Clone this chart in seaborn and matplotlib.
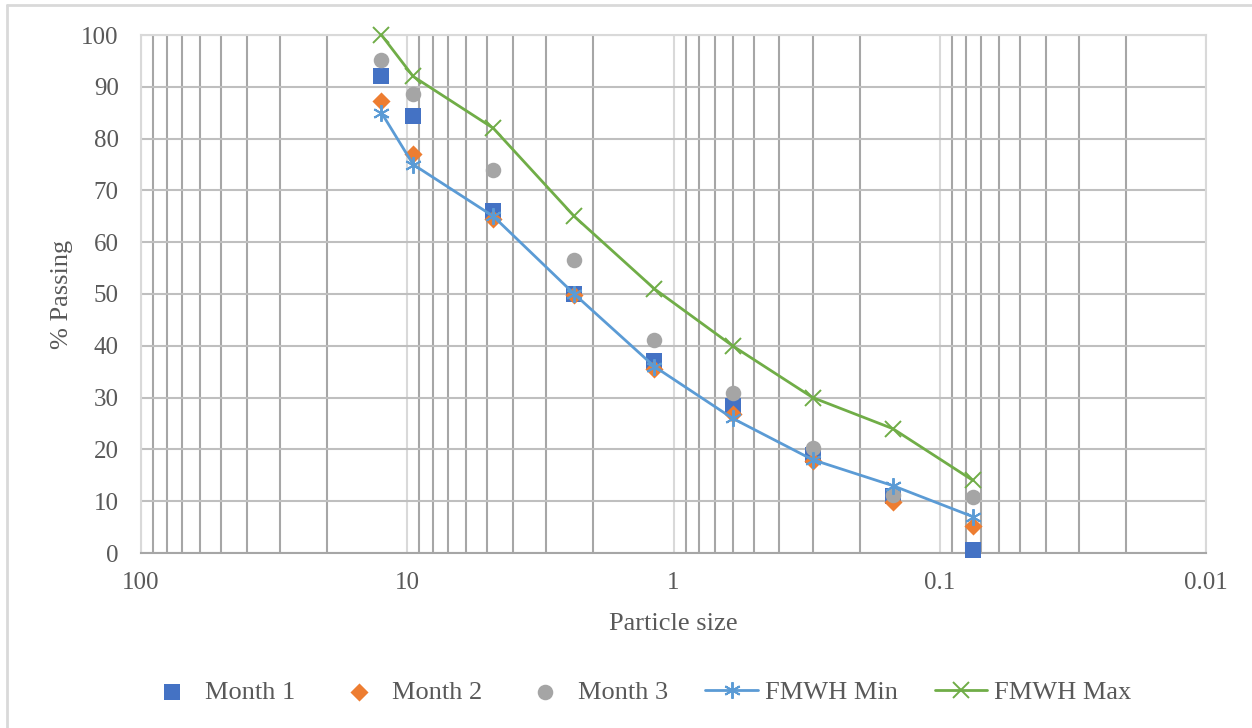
import numpy as np
import pandas as pd
import matplotlib
matplotlib.use('Agg')
import matplotlib.pyplot as plt
import seaborn as sns
from matplotlib.ticker import LogLocator, FuncFormatter, NullFormatter
from matplotlib.lines import Line2D

sizes = [12.5, 9.5, 4.75, 2.36, 1.18, 0.6, 0.3, 0.15, 0.075]
month1 = [92.0, 84.3, 66.0, 50.0, 37.0, 28.3, 19.0, 11.0, 0.5]
month2 = [87.3, 77.0, 64.5, 49.8, 35.5, 26.8, 17.8, 9.8, 5.2]
month3 = [95.2, 88.7, 74.0, 56.5, 41.2, 30.8, 20.3, 11.2, 10.8]
fmwh_min = [85, 75, 65, 50, 36, 26, 18, 13, 7]
fmwh_max = [100, 92, 82, 65, 51, 40, 30, 24, 14]

sns.set_style('white')
plt.rcParams['font.family'] = ['Liberation Serif', 'DejaVu Serif']
txt = '#595959'

fig = plt.figure(figsize=(12.52, 7.28), dpi=100)
ax = fig.add_axes([141 / 1252, 1 - 553 / 728, (1206 - 141) / 1252, (553 - 35) / 728])

df = pd.DataFrame({'size': sizes, 'Month 1': month1, 'Month 2': month2,
                   'Month 3': month3, 'FMWH Min': fmwh_min, 'FMWH Max': fmwh_max})

scat = [('Month 1', '#4472C4', 's', 120), ('Month 2', '#ED7D31', 'D', 85),
        ('Month 3', '#A5A5A5', 'o', 125)]
for name, col, mk, s in scat:
    sns.scatterplot(data=df, x='size', y=name, color=col, marker=mk, s=s,
                    linewidth=0, ax=ax, label=name, zorder=4, clip_on=False)

lines = [('FMWH Min', '#5B9BD5', (6, 2, 0)), ('FMWH Max', '#70AD47', 'x')]
for name, col, mk in lines:
    sns.lineplot(data=df, x='size', y=name, color=col, marker=mk, markersize=12,
                 markeredgewidth=1.4, markeredgecolor=col, linewidth=2,
                 ax=ax, label=name, zorder=5, clip_on=False)

ax.set_xscale('log')
ax.set_xlim(100, 0.01)
ax.set_ylim(0, 100)
ax.set_yticks(np.arange(0, 101, 10))
ax.xaxis.set_major_locator(LogLocator(base=10, numticks=10))
ax.xaxis.set_minor_locator(LogLocator(base=10, subs=np.arange(2, 10), numticks=20))
ax.xaxis.set_major_formatter(FuncFormatter(lambda v, p: f'{v:g}'))
ax.xaxis.set_minor_formatter(NullFormatter())

ax.grid(axis='x', which='major', color='#D9D9D9', linewidth=1.5)
ax.grid(axis='x', which='minor', color='#A6A6A6', linewidth=1.5)
ax.grid(axis='y', which='major', color='#BFBFBF', linewidth=1.5)
ax.set_axisbelow(True)
for side in ['left', 'right', 'top']:
    ax.spines[side].set_color('#D9D9D9')
    ax.spines[side].set_linewidth(1.5)
ax.spines['bottom'].set_color('#A6A6A6')
ax.spines['bottom'].set_linewidth(1.5)

ax.tick_params(axis='both', which='both', length=0, labelsize=18, labelcolor=txt)
ax.tick_params(axis='y', pad=16)
ax.tick_params(axis='x', pad=14)
ax.set_xlabel('Particle size', fontsize=19, color=txt, labelpad=13)
ax.set_ylabel('% Passing', fontsize=19, color=txt, labelpad=6)

handles, labels = ax.get_legend_handles_labels()
ax.legend_.remove()
fig.legend(handles, labels, loc='center', bbox_to_anchor=(0.51, 1 - 692 / 728),
           ncol=5, frameon=False, fontsize=19, labelcolor=txt,
           handlelength=2.0, columnspacing=1.4, handletextpad=0.25)

fig.add_artist(Line2D([7 / 1252, 1.0], [1 - 5 / 728] * 2, transform=fig.transFigure,
                      color='#D9D9D9', linewidth=2))
fig.add_artist(Line2D([7 / 1252] * 2, [0, 1 - 5 / 728], transform=fig.transFigure,
                      color='#D9D9D9', linewidth=2))

fig.savefig('out.png', dpi=100, facecolor='white')
